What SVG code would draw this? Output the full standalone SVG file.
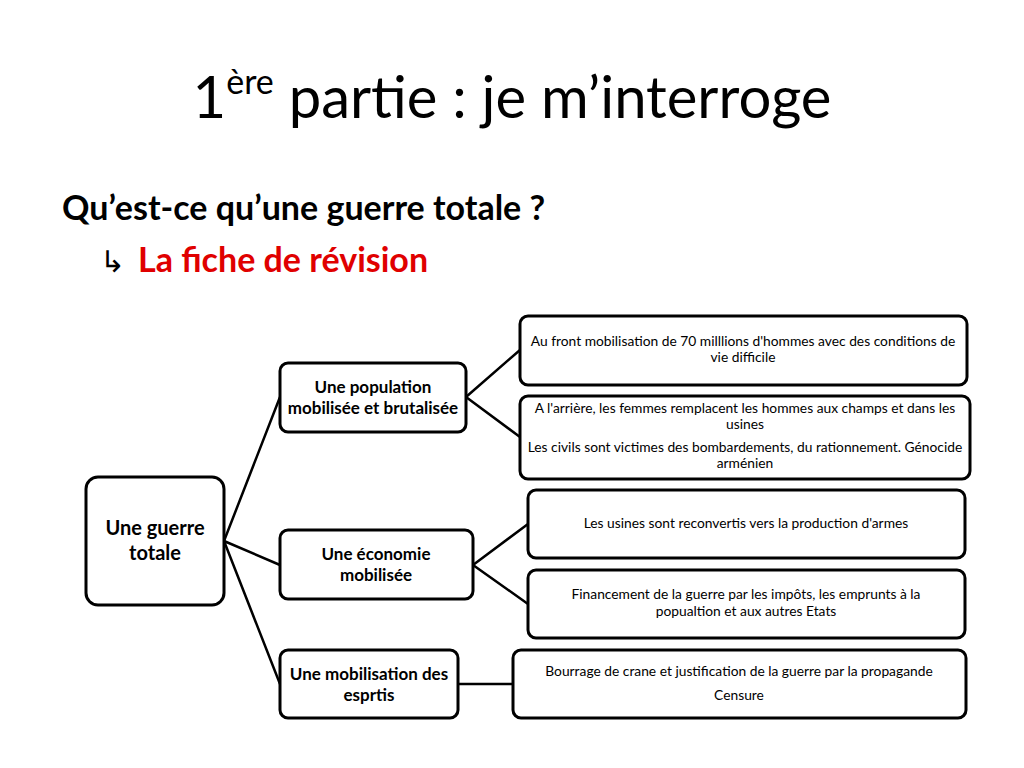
<svg xmlns="http://www.w3.org/2000/svg" width="1024" height="768" viewBox="0 0 1024 768">
<style>
text{font-family:Lato,"Open Sans","Liberation Sans",sans-serif;fill:#000}
.n{fill:#fff;stroke:#000;stroke-width:3}
.l{stroke:#000;stroke-width:2.5;fill:none}
.b{font-weight:bold;font-size:17px;text-anchor:middle}
.s{font-size:13.8px;text-anchor:middle}
</style>
<rect width="1024" height="768" fill="#fff"/>
<text x="512" y="118" font-size="58" text-anchor="middle">1<tspan font-size="34" dy="-24">ère</tspan><tspan dy="24"> partie : je m’interroge</tspan></text>
<text x="62" y="220" font-size="34" font-weight="bold">Qu’est-ce qu’une guerre totale ?</text>
<text x="100" y="272" font-size="30" font-family="DejaVu Sans">↳</text>
<text x="138" y="272" font-size="34" font-weight="bold" style="fill:#e00000">La fiche de révision</text>
<g id="connectors">
<path class="l" d="M224 541L280 397M224 541L280 565M224 541L280 684M466 397L520 350M466 397L520 437M473 565L528 524M473 565L528 604M458 684L513 684"/>
</g>
<g id="root"><rect class="n" x="86" y="477" width="138" height="128" rx="12"/><text class="b" x="155" y="535" style="font-size:20px">Une guerre</text><text class="b" x="155" y="560" style="font-size:20px">totale</text></g>
<g id="pop"><rect class="n" x="280" y="363" width="186" height="69" rx="8"/><text class="b" x="373" y="393">Une population</text><text class="b" x="373" y="414">mobilisée et brutalisée</text></g>
<g id="eco"><rect class="n" x="280" y="530" width="193" height="69" rx="8"/><text class="b" x="376" y="560">Une économie</text><text class="b" x="376" y="581">mobilisée</text></g>
<g id="esp"><rect class="n" x="280" y="650" width="178" height="68" rx="8"/><text class="b" x="369" y="680">Une mobilisation des</text><text class="b" x="369" y="701">esprtis</text></g>
<g id="b1"><rect class="n" x="520" y="316" width="447" height="69" rx="8"/><text class="s" x="743" y="346">Au front mobilisation de 70 milllions d'hommes avec des conditions de</text><text class="s" x="743" y="362">vie difficile</text></g>
<g id="b2"><rect class="n" x="520" y="396" width="450" height="83" rx="8"/><text class="s" x="745" y="413">A l'arrière, les femmes remplacent les hommes aux champs et dans les</text><text class="s" x="745" y="429">usines</text><text class="s" x="745" y="452">Les civils sont victimes des bombardements, du rationnement. Génocide</text><text class="s" x="745" y="468">arménien</text></g>
<g id="b3"><rect class="n" x="528" y="490" width="437" height="68" rx="8"/><text class="s" x="746" y="528">Les usines sont reconvertis vers la production d'armes</text></g>
<g id="b4"><rect class="n" x="528" y="570" width="437" height="68" rx="8"/><text class="s" x="746" y="599">Financement de la guerre par les impôts, les emprunts à la</text><text class="s" x="746" y="616">popualtion et aux autres Etats</text></g>
<g id="b5"><rect class="n" x="513" y="650" width="453" height="68" rx="8"/><text class="s" x="739" y="676">Bourrage de crane et justification de la guerre par la propagande</text><text class="s" x="739" y="700">Censure</text></g>
</svg>
